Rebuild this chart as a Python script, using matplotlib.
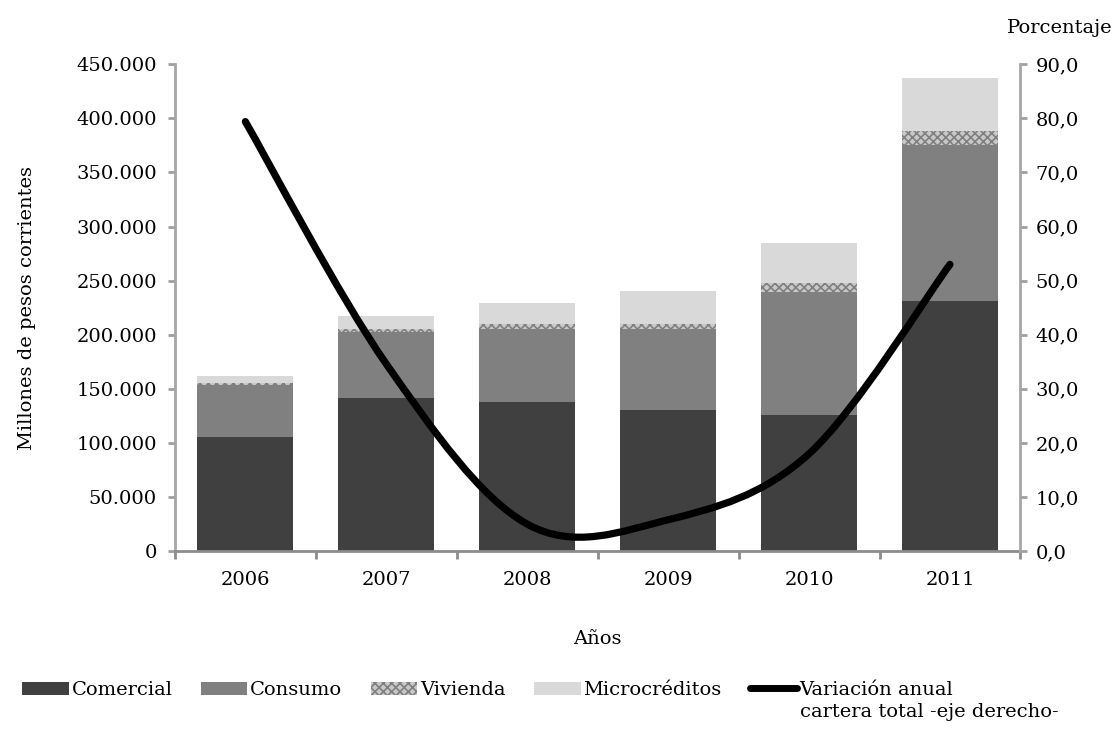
import numpy as np
import matplotlib
matplotlib.use('Agg')
import matplotlib.pyplot as plt
from matplotlib.path import Path
from matplotlib.patches import PathPatch, Patch
from matplotlib.lines import Line2D
from matplotlib.ticker import FuncFormatter

plt.rcParams['font.family'] = ['DejaVu Serif']
plt.rcParams['hatch.linewidth'] = 1.2

years = ['2006', '2007', '2008', '2009', '2010', '2011']
comercial = [105500, 141600, 137700, 130300, 125700, 231000]
consumo = [48000, 60800, 67400, 74800, 113600, 144100]
vivienda = [1500, 3000, 4600, 4600, 8300, 13000]
microcreditos = [6500, 11700, 19500, 30500, 37000, 49200]
variacion = [79.4, 34.6, 5.0, 5.8, 18.0, 53.0]

fig = plt.figure(figsize=(11.14, 7.3), dpi=100)
ax = fig.add_axes([0.157, 0.245, 0.759, 0.667])
x = np.arange(len(years))
w = 0.68

b1 = np.array(comercial)
b2 = b1 + np.array(consumo)
b3 = b2 + np.array(vivienda)
ax.bar(x, comercial, w, color='#404040', zorder=2)
ax.bar(x, consumo, w, bottom=b1, color='#808080', zorder=2)
ax.bar(x, vivienda, w, bottom=b2, facecolor='#c8c8c8', edgecolor='#808080',
       hatch='xxxx', linewidth=0, zorder=2)
ax.bar(x, microcreditos, w, bottom=b3, color='#d9d9d9', zorder=2)

ax.set_xlim(-0.5, 5.5)
ax.set_ylim(0, 450000)
ax.set_yticks(np.arange(0, 450001, 50000))
ax.yaxis.set_major_formatter(FuncFormatter(lambda v, p: f'{int(v):,}'.replace(',', '.')))
ax.set_xticks(x)
ax.set_xticklabels(years)
ax.set_xticks(np.arange(-0.5, 5.6, 1), minor=True)
ax.tick_params(axis='x', which='major', length=0, pad=14, labelsize=14)
ax.tick_params(axis='x', which='minor', length=6, width=2, color='#8c8c8c')
ax.tick_params(axis='y', length=5, width=2, color='#a0a0a0', labelsize=14, pad=8)
for s in ['top', 'right']:
    ax.spines[s].set_visible(False)
ax.spines['left'].set_color('#a6a6a6')
ax.spines['left'].set_linewidth(2)
ax.spines['bottom'].set_color('#8c8c8c')
ax.spines['bottom'].set_linewidth(2)
ax.set_ylabel('Millones de pesos corrientes', fontsize=14, labelpad=29)
ax.set_xlabel('Años', fontsize=14, labelpad=30)

ax2 = ax.twinx()
ax2.set_ylim(0, 90)
ax2.set_yticks(np.arange(0, 91, 10))
ax2.yaxis.set_major_formatter(FuncFormatter(lambda v, p: f'{v:.1f}'.replace('.', ',')))
ax2.tick_params(axis='y', length=5, width=2, color='#a0a0a0', labelsize=14, pad=6)
for s in ['top', 'left', 'bottom']:
    ax2.spines[s].set_visible(False)
ax2.spines['right'].set_color('#a6a6a6')
ax2.spines['right'].set_linewidth(2)

# smoothed line (Catmull-Rom style bezier, like Excel)
pts = np.column_stack([x, variacion]).astype(float)
ext = np.vstack([pts[0], pts, pts[-1]])
verts = [tuple(pts[0])]
codes = [Path.MOVETO]
for i in range(len(pts) - 1):
    p0, p1, p2, p3 = ext[i], ext[i + 1], ext[i + 2], ext[i + 3]
    c1 = p1 + (p2 - p0) / 6
    c2 = p2 - (p3 - p1) / 6
    verts += [tuple(c1), tuple(c2), tuple(p2)]
    codes += [Path.CURVE4] * 3
ax2.add_patch(PathPatch(Path(verts, codes), facecolor='none', edgecolor='black',
                        linewidth=5.2, capstyle='round', zorder=3))

fig.text(0.999, 0.962, 'Porcentaje', fontsize=14, ha='right', va='center')

handles = [Patch(facecolor='#404040'), Patch(facecolor='#808080'),
           Patch(facecolor='#c8c8c8', edgecolor='#808080', hatch='xxxx', linewidth=0),
           Patch(facecolor='#d9d9d9'),
           Line2D([], [], color='black', linewidth=5, solid_capstyle='round')]
labels = ['Comercial', 'Consumo', 'Vivienda', 'Microcréditos', 'Variación anual']
leg = fig.legend(handles, labels, loc='center left', bbox_to_anchor=(0.004, 0.055), ncol=5,
                 frameon=False, fontsize=14, handlelength=2.4, handleheight=0.65,
                 handletextpad=0.15, columnspacing=1.45)

fig.canvas.draw()
bb = leg.get_texts()[4].get_window_extent().transformed(fig.transFigure.inverted())
fig.text(bb.x0, bb.y0 - 0.006, 'cartera total -eje derecho-', fontsize=14,
         ha='left', va='top')

fig.savefig('out.png', dpi=100)
